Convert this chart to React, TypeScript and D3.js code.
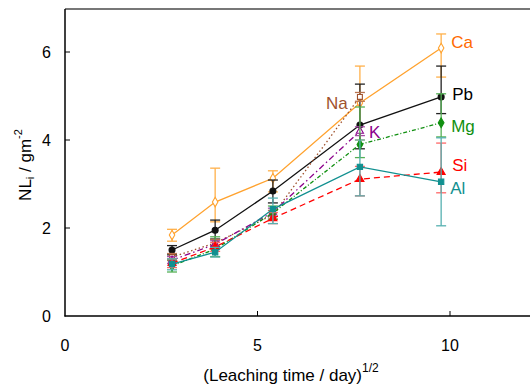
import * as d3 from "d3";

// leaching time (day^1/2)
const xVals = [2.78, 3.9, 5.4, 7.66, 9.77];

// normalised leaching NL_i (g m^-2), with upper / lower error limits
const caY = [1.84, 2.59, 3.13, 4.84, 6.09];
const caHi = [1.97, 3.36, 3.3, 5.68, 6.41];
const caLo = [1.7, 2.14, 2.82, 4.0, 5.43];

const pbY = [1.5, 1.95, 2.84, 4.34, 4.98];
const pbHi = [1.6, 2.18, 3.09, 5.27, 5.68];
const pbLo = [1.39, 1.75, 2.57, 3.8, 4.6];

const naY = [1.34, 1.66, 2.3, 4.98];
const naHi = [1.42, 1.74, 2.4, 5.08];
const naLo = [1.26, 1.58, 2.2, 4.88];

const kY = [1.27, 1.63, 2.36, 4.2];
const kHi = [1.35, 1.71, 2.45, 4.3];
const kLo = [1.19, 1.55, 2.27, 4.1];

const mgY = [1.14, 1.52, 2.34, 3.9, 4.39];
const mgHi = [1.28, 1.8, 2.5, 4.75, 5.05];
const mgLo = [1.0, 1.35, 2.2, 3.6, 4.07];

const siY = [1.2, 1.57, 2.22, 3.11, 3.27];
const siHi = [1.3, 1.67, 2.35, 3.4, 3.93];
const siLo = [1.1, 1.47, 2.1, 2.73, 2.8];

const alY = [1.18, 1.45, 2.43, 3.39, 3.05];
const alHi = [1.3, 1.56, 2.68, 4.0, 4.05];
const alLo = [1.05, 1.34, 2.1, 2.73, 2.05];

const xTicks = [0, 5, 10];
const yTicks = [0, 2, 4, 6];

const W = 530;
const H = 387;

const x = d3.scaleLinear().domain([0, 10]).range([65, 450]);
const y = d3.scaleLinear().domain([0, 6]).range([316, 52]);

const series = [
  { name: "Ca", ys: caY, hi: caHi, lo: caLo, line: "#ffa22e", err: "#ffb04a", text: "#ff6a00", dash: "", sym: d3.symbolDiamond, size: 26, filled: false, dx: 10, dy: -5 },
  { name: "Pb", ys: pbY, hi: pbHi, lo: pbLo, line: "#111111", err: "#222222", text: "#000000", dash: "", sym: d3.symbolCircle, size: 28, filled: true, dx: 11, dy: -1 },
  { name: "Na", ys: naY, hi: naHi, lo: naLo, line: "#a0522d", err: "#b8734f", text: "#a0522d", dash: "1.5,2.5", sym: d3.symbolSquare, size: 24, filled: false, dx: -34, dy: 8 },
  { name: "K", ys: kY, hi: kHi, lo: kLo, line: "#8b008b", err: "#a64ca6", text: "#8b008b", dash: "6,3,1.5,3", sym: d3.symbolTriangle, size: 22, filled: false, dx: 9, dy: 2 },
  { name: "Mg", ys: mgY, hi: mgHi, lo: mgLo, line: "#119011", err: "#55b055", text: "#119011", dash: "4,2,1,2", sym: d3.symbolDiamond, size: 28, filled: true, dx: 10, dy: 5 },
  { name: "Si", ys: siY, hi: siHi, lo: siLo, line: "#ff0000", err: "#ff6666", text: "#ff0000", dash: "6,4", sym: d3.symbolTriangle, size: 28, filled: true, dx: 11, dy: -6 },
  { name: "Al", ys: alY, hi: alHi, lo: alLo, line: "#119090", err: "#55b0b0", text: "#119090", dash: "", sym: d3.symbolSquare, size: 28, filled: true, dx: 9, dy: 8 },
];

const font = "'Liberation Sans', Arial, sans-serif";

export default function App() {
  const line = d3
    .line<number>()
    .x((_, i) => x(xVals[i]))
    .y((d) => y(d));

  return (
    <svg
      width={W}
      height={H}
      style={{ position: "absolute", left: 0, top: 0, background: "#fff" }}
      fontFamily={font}
    >
      {/* frame */}
      <line x1={65} x2={W} y1={9} y2={9} stroke="#777" strokeWidth={2} />
      <line x1={65} x2={65} y1={9} y2={316.5} stroke="#000" strokeWidth={1.5} />
      <line x1={64.5} x2={W} y1={316} y2={316} stroke="#000" strokeWidth={1.5} />

      {/* ticks */}
      {xTicks.map((t) => (
        <g key={"x" + t}>
          {t > 0 && <line x1={x(t)} x2={x(t)} y1={316} y2={311} stroke="#000" strokeWidth={1} />}
          <text x={x(t)} y={351} textAnchor="middle" fontSize={16}>
            {t}
          </text>
        </g>
      ))}
      {yTicks.map((t) => (
        <g key={"y" + t}>
          {t > 0 && <line x1={65} x2={70} y1={y(t)} y2={y(t)} stroke="#000" strokeWidth={1} />}
          <text x={51} y={y(t) + 6} textAnchor="end" fontSize={16}>
            {t}
          </text>
        </g>
      ))}

      {/* axis titles */}
      <text x={291} y={381} textAnchor="middle" fontSize={17}>
        (Leaching time / day)
        <tspan fontSize={12} dy={-9}>
          1/2
        </tspan>
      </text>
      <text transform="translate(31,165) rotate(-90)" textAnchor="middle" fontSize={17}>
        NL
        <tspan fontSize={11} dy={3}>
          i
        </tspan>
        <tspan dy={-3}> / gm</tspan>
        <tspan fontSize={11} dy={-9}>
          -2
        </tspan>
      </text>

      {/* series */}
      {series.map((s) => (
        <g key={s.name}>
          <path d={line(s.ys) ?? ""} fill="none" stroke={s.line} strokeWidth={1.3} strokeDasharray={s.dash || undefined} />
          {s.ys.map((_, i) => {
            const cx = x(xVals[i]);
            return (
              <g key={i} stroke={s.err} strokeWidth={1.3}>
                <line x1={cx} x2={cx} y1={y(s.hi[i])} y2={y(s.lo[i])} />
                <line x1={cx - 5} x2={cx + 5} y1={y(s.hi[i])} y2={y(s.hi[i])} />
                <line x1={cx - 5} x2={cx + 5} y1={y(s.lo[i])} y2={y(s.lo[i])} />
              </g>
            );
          })}
          {s.ys.map((v, i) => (
            <path
              key={"m" + i}
              transform={`translate(${x(xVals[i])},${y(v)})`}
              d={d3.symbol().type(s.sym).size(s.size)() ?? ""}
              fill={s.filled ? s.line : "#fff"}
              stroke={s.line}
              strokeWidth={1.1}
            />
          ))}
          <text
            x={x(xVals[s.ys.length - 1]) + s.dx}
            y={y(s.ys[s.ys.length - 1]) + s.dy}
            fontSize={17}
            fill={s.text}
            dominantBaseline="middle"
          >
            {s.name}
          </text>
        </g>
      ))}
    </svg>
  );
}
